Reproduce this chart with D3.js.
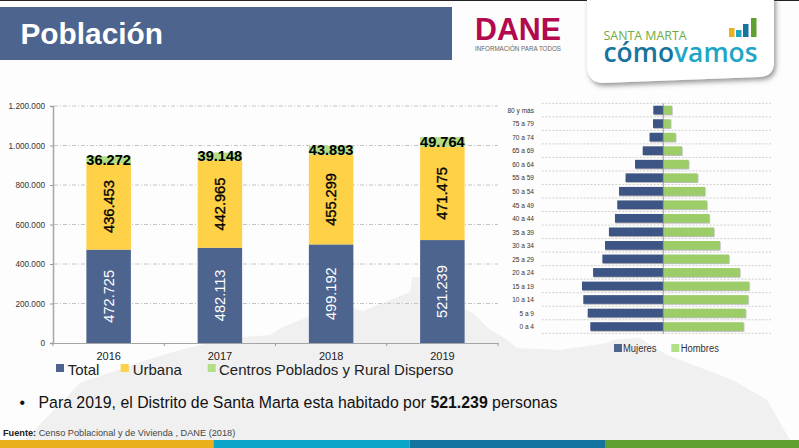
<!DOCTYPE html>
<html>
<head>
<meta charset="utf-8">
<script src="https://cdn.jsdelivr.net/npm/d3@7"></script>
<style>
  html, body { margin: 0; padding: 0; background: #fdfdfd; overflow: hidden; }
  svg { display: block; font-family: "Liberation Sans", Arial, sans-serif; }
</style>
</head>
<body>
<svg id="graphic-svg" width="799" height="448"></svg>
<script>
// Data
var years = ["2016", "2017", "2018", "2019"];
var total = [472725, 482113, 499192, 521239];
var urbana = [436453, 442965, 455299, 471475];
var rural = [36272, 39148, 43893, 49764];
var yTicks = [0, 200000, 400000, 600000, 800000, 1000000, 1200000];
var stackNames = ["Total", "Urbana", "Centros Poblados y Rural Disperso"];

var ageGroups = ["80 y más", "75 a 79", "70 a 74", "65 a 69", "60 a 64", "55 a 59", "50 a 54", "45 a 49", "40 a 44",
                 "35 a 39", "30 a 34", "25 a 29", "20 a 24", "15 a 19", "10 a 14", "5 a 9", "0 a 4"];
// share of total population, %
var mujeres = [0.61, 0.63, 0.84, 1.26, 1.73, 2.31, 2.71, 2.82, 2.96, 3.33, 3.57, 3.73, 4.30, 4.98, 4.90, 4.63, 4.47];
var hombres = [0.53, 0.45, 0.75, 1.14, 1.55, 2.10, 2.55, 2.67, 2.82, 3.10, 3.47, 4.02, 4.69, 5.26, 5.20, 5.04, 4.92];

// Colors
var blue = "#4d648f", yellow = "#ffd147", green = "#b2de85";
var pyrBlue = "#3c5485", pyrGreen = "#9dcd69";

var svg = d3.select("#graphic-svg");
var es = d3.formatLocale({ decimal: ",", thousands: ".", grouping: [3], currency: ["$", ""] });
var fmt = es.format(",");

var defs = svg.append("defs");
var shadow = defs.append("filter").attr("id", "barShadow").attr("x", "-10%").attr("y", "-30%").attr("width", "120%").attr("height", "170%");
shadow.append("feDropShadow").attr("dx", 0.6).attr("dy", 0.8).attr("stdDeviation", 0.7).attr("flood-color", "#777").attr("flood-opacity", 0.6);
var cardShadow = defs.append("filter").attr("id", "cardShadow").attr("x", "-10%").attr("y", "-10%").attr("width", "120%").attr("height", "130%");
cardShadow.append("feDropShadow").attr("dx", 2).attr("dy", 3).attr("stdDeviation", 2.5).attr("flood-color", "#555").attr("flood-opacity", 0.6);

// Background silhouette
var hill = [[20,448],[25,440],[80,383],[140,362],[180,350],[230,338],[270,335],[283,327],[308,317],[353,308],[363,311],[410,292],
            [412,277],[457,277],[460,307],[473,313],[490,330],[500,335],[507,340],[517,348],[560,350],[607,343],[613,340],[640,338],
            [667,355],[733,380],[767,400],[790,440],[795,448]];
svg.append("path").attr("d", d3.line()(hill) + "Z").attr("fill", "#f0f0f0");

// Header
svg.append("rect").attr("width", 799).attr("height", 1).attr("fill", "#222");
svg.append("rect").attr("y", 7).attr("width", 452).attr("height", 53).attr("fill", blue);
svg.append("text").text("Población").attr("x", 20.5).attr("y", 44).attr("fill", "#fff")
   .attr("font-size", 29.8).attr("font-weight", "bold");

// DANE logo
svg.append("text").text("DANE").attr("x", 475).attr("y", 39.5).attr("fill", "#b3094f")
   .attr("font-size", 31).attr("font-weight", "bold")
   .attr("textLength", 86).attr("lengthAdjust", "spacingAndGlyphs");
svg.append("text").text("INFORMACIÓN PARA TODOS").attr("x", 475).attr("y", 50.5).attr("fill", "#666")
   .attr("font-size", 6.3).attr("textLength", 86).attr("lengthAdjust", "spacingAndGlyphs");

// Santa Marta card
svg.append("path").attr("d", "M587,-4 H774 V62 Q774,76 760,77 L603,83 Q589,83 587,68 Z")
   .attr("fill", "#fff").attr("filter", "url(#cardShadow)");
svg.append("text").text("SANTA MARTA").attr("x", 603.5).attr("y", 39.5).attr("fill", "#6eab45")
   .attr("font-family", "'Open Sans', sans-serif").attr("font-size", 12.4);
var como = svg.append("text").attr("x", 603.5).attr("y", 62).attr("font-family", "'Open Sans', sans-serif")
   .attr("font-size", 26.4).attr("font-weight", 600);
como.append("tspan").text("cómo").attr("fill", "#17749f");
como.append("tspan").text("vamos").attr("fill", "#1fa6c6");
svg.selectAll(".logoBar").data([["#ecb11f", 729, 28, 9], ["#1fa6c6", 736, 30, 7], ["#17749f", 743, 24, 13], ["#5ea12e", 751, 18, 19]])
   .enter().append("rect").attr("class", "logoBar")
   .attr("x", function(d) { return d[1]; }).attr("y", function(d) { return d[2]; })
   .attr("width", 5.5).attr("height", function(d) { return d[3]; }).attr("fill", function(d) { return d[0]; });

// Stacked chart
var xScale = d3.scaleBand().domain(years).range([53, 498]).paddingInner(0.6).paddingOuter(0.3);
var yScale = d3.scaleLinear().domain([0, 1200000]).range([343, 106]);

var yAxis = svg.append("g").attr("transform", "translate(53,0)")
   .call(d3.axisLeft(yScale).tickValues(yTicks).tickFormat(fmt).tickSize(3).tickPadding(5));
yAxis.selectAll("text").attr("font-size", 8.2).attr("font-family", "'Liberation Sans'").attr("fill", "#333");
yAxis.selectAll("line").attr("stroke", "#999");
yAxis.select(".domain").attr("stroke", "#a6a6a6").attr("stroke-width", 1.5);

svg.append("g").selectAll("line").data(yTicks.slice(1)).enter().append("line")
   .attr("x1", 54).attr("x2", 498)
   .attr("y1", function(d) { return yScale(d); }).attr("y2", function(d) { return yScale(d); })
   .attr("stroke", "#c4c4c4").attr("stroke-dasharray", "4,2,1,2");

var stackRows = years.map(function(y, i) { return { year: y, t: total[i], u: urbana[i], r: rural[i] }; });
var stacked = d3.stack().keys(["t", "u", "r"])(stackRows);
var stackColors = [blue, yellow, green];
var labelColors = ["#fff", "#000", "#000"];

var stackGroup = svg.append("g").selectAll("g").data(stacked).enter().append("g");
stackGroup.selectAll("rect").data(function(d) { return d; }).enter().append("rect")
   .attr("x", function(d) { return xScale(d.data.year); })
   .attr("width", xScale.bandwidth())
   .attr("y", function(d) { return yScale(d[1]); })
   .attr("height", function(d) { return yScale(d[0]) - yScale(d[1]); })
   .attr("fill", function() { return stackColors[d3.select(this.parentNode).datum().index]; });

stackGroup.selectAll("text").data(function(d) { return d.map(function(p) { return { p: p, s: d.index }; }); }).enter().append("text")
   .text(function(d) { return fmt(d.p[1] - d.p[0]); })
   .attr("text-anchor", "middle").attr("dominant-baseline", "central")
   .attr("font-size", 14.6)
   .attr("font-weight", function(d) { return d.s === 2 ? "bold" : "normal"; })
   .attr("stroke", function(d) { return d.s === 1 ? "#000" : "none"; }).attr("stroke-width", 0.35)
   .attr("fill", function(d) { return labelColors[d.s]; })
   .attr("transform", function(d) {
     var cx = xScale(d.p.data.year) + xScale.bandwidth() / 2;
     var cy = yScale((d.p[0] + d.p[1]) / 2);
     return d.s === 2 ? "translate(" + cx + "," + cy + ")" : "translate(" + cx + "," + cy + ") rotate(-90)";
   });

var xAxis = svg.append("g").attr("transform", "translate(0,343)")
   .call(d3.axisBottom(xScale).tickSize(0).tickPadding(9));
xAxis.selectAll("text").attr("font-size", 11).attr("font-family", "'Liberation Sans'").attr("fill", "#222");
xAxis.select(".domain").attr("stroke", "#a6a6a6").attr("stroke-width", 1);
// tick marks between categories
xAxis.selectAll(".sep").data([53, 164.25, 275.5, 386.75, 498]).enter().append("line").attr("class", "sep")
   .attr("x1", function(d) { return d; }).attr("x2", function(d) { return d; })
   .attr("y1", 0).attr("y2", 3).attr("stroke", "#999");

// Stacked legend
var legendX = [[56, 67.7], [120.7, 132.7], [207.7, 219]];
var legend = svg.append("g").selectAll("g").data(stackNames).enter().append("g");
legend.append("rect").attr("x", function(d, i) { return legendX[i][0]; }).attr("y", 364).attr("width", 8).attr("height", 8)
   .attr("fill", function(d, i) { return stackColors[i]; });
legend.append("text").text(function(d) { return d; }).attr("x", function(d, i) { return legendX[i][1]; }).attr("y", 374.5)
   .attr("font-size", 15).attr("fill", "#222");

// Pyramid
var xPyr = d3.scaleLinear().domain([-7.45, 6.6]).range([541.7, 771]);
var yPyr = d3.scaleBand().domain(ageGroups).range([103.3, 333.3]).paddingInner(0.36).paddingOuter(0.18);
var step = yPyr.step();

var pyrLines = d3.range(ageGroups.length + 1);
svg.append("g").selectAll("line").data(pyrLines).enter().append("line")
   .attr("x1", 541.7).attr("x2", 771)
   .attr("y1", function(d) { return 103.3 + d * step; }).attr("y2", function(d) { return 103.3 + d * step; })
   .attr("stroke", "#cfcfcf").attr("stroke-dasharray", "2,1.5");

svg.append("g").selectAll("rect").data(mujeres).enter().append("rect")
   .attr("x", function(d) { return xPyr(-d); }).attr("width", function(d) { return xPyr(0) - xPyr(-d); })
   .attr("y", function(d, i) { return yPyr(ageGroups[i]); }).attr("height", yPyr.bandwidth())
   .attr("fill", pyrBlue).attr("filter", "url(#barShadow)");
svg.append("g").selectAll("rect").data(hombres).enter().append("rect")
   .attr("x", xPyr(0)).attr("width", function(d) { return xPyr(d) - xPyr(0); })
   .attr("y", function(d, i) { return yPyr(ageGroups[i]); }).attr("height", yPyr.bandwidth())
   .attr("fill", pyrGreen).attr("filter", "url(#barShadow)");

svg.append("line").attr("x1", xPyr(0)).attr("x2", xPyr(0)).attr("y1", 103.3).attr("y2", 334)
   .attr("stroke", "#888").attr("stroke-width", 0.8);

// no narrow face installed, so squeeze the regular one
svg.append("g").selectAll("text").data(ageGroups).enter().append("text").text(function(d) { return d; })
   .attr("transform", function(d) { return "translate(534," + (yPyr(d) + yPyr.bandwidth() / 2) + ") scale(0.82,1)"; })
   .attr("dominant-baseline", "central").attr("text-anchor", "end")
   .attr("font-size", 8).attr("fill", "#333");

// Pyramid legend
[["Mujeres", 614, 623, blue], ["Hombres", 671.3, 680.7, green]].forEach(function(d) {
  svg.append("rect").attr("x", d[1]).attr("y", 344).attr("width", 8).attr("height", 8).attr("fill", d[3]);
  svg.append("text").text(d[0]).attr("transform", "translate(" + d[2] + ",352) scale(0.82,1)")
     .attr("font-size", 11.5).attr("fill", "#333");
});

// Note
svg.append("text").text("•").attr("x", 19.5).attr("y", 407.5).attr("font-size", 15.85).attr("fill", "#111");
var note = svg.append("text").attr("x", 38.5).attr("y", 407.5).attr("font-size", 15.85).attr("fill", "#111");
note.append("tspan").text("Para 2019, el Distrito de Santa Marta esta habitado por ");
note.append("tspan").text("521.239").attr("font-weight", "bold");
note.append("tspan").text(" personas");

var src = svg.append("text").attr("x", 3).attr("y", 436).attr("font-size", 9.2).attr("fill", "#444");
src.append("tspan").text("Fuente: ").attr("font-weight", "bold").attr("fill", "#222");
src.append("tspan").text("Censo Poblacional y de Vivienda , DANE (2018)");

// Bottom band
svg.append("g").selectAll("rect").data([[0, 213.5, "#e9b01c"], [213.5, 409.5, "#0aa5c8"], [409.5, 605, "#1474a0"], [605, 799, "#5ea12e"]])
   .enter().append("rect").attr("x", function(d) { return d[0]; }).attr("y", 440)
   .attr("width", function(d) { return d[1] - d[0]; }).attr("height", 8).attr("fill", function(d) { return d[2]; });
</script>
</body>
</html>
